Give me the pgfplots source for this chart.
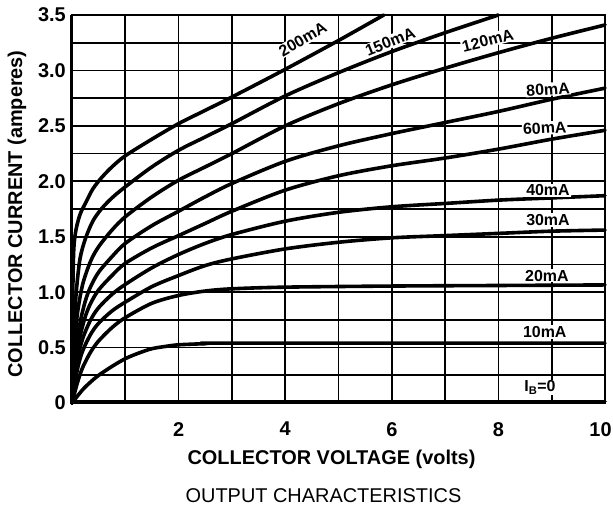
\documentclass[border=0pt]{standalone}
\usepackage{fontspec}
\setmainfont{Liberation Sans}
\usepackage{pgfplots}
\pgfplotsset{compat=1.18}
\usetikzlibrary{calc}
\begin{document}
\begin{tikzpicture}
\begin{axis}[
  name=ax,
  scale only axis,
  width=533bp, height=388bp,
  xmin=0, xmax=10, ymin=0, ymax=3.5,
  clip=false,
  xtick={0,1,2,3,4,5,6,7,8,9,10},
  xticklabels={,,2,,4,,6,,8,,10\kern9bp},
  ytick={0,0.25,0.5,0.75,1,1.25,1.5,1.75,2,2.25,2.5,2.75,3,3.25,3.5},
  yticklabels={0,,0.5,,1.0,,1.5,,2.0,,2.5,,3.0,,3.5},
  grid=major,
  major grid style={black, line width=1.7bp},
  major tick length=0pt,
  axis line style={black, line width=1.8bp},
  xticklabel style={font=\fontsize{20}{20}\selectfont\bfseries, anchor=north, inner sep=0pt, yshift=-19bp},
  yticklabel style={font=\fontsize{20}{20}\selectfont\bfseries, anchor=east, inner sep=0pt, xshift=-6bp},
]
\pgfplotsset{every axis plot/.append style={black, line width=3.6bp, line cap=round, line join=round}}
% 200 mA
\addplot[black, smooth] coordinates {(0,0) (0.01,0.8) (0.03,1.35) (0.07,1.55) (0.15,1.7) (0.25,1.8) (0.39,1.93) (0.55,2.03) (0.75,2.13) (1,2.23) (1.5,2.38) (2,2.52) (2.5,2.64) (3,2.76) (4,3.01) (5,3.27) (5.85,3.5)};
% 150 mA
\addplot[black, smooth] coordinates {(0,0) (0.03,0.6) (0.08,1.0) (0.15,1.3) (0.25,1.48) (0.39,1.64) (0.55,1.75) (0.75,1.85) (1,1.95) (1.5,2.13) (2,2.28) (2.5,2.40) (3,2.52) (4,2.77) (5,2.98) (6,3.17) (7,3.34) (8,3.5)};
% 120 mA
\addplot[black, smooth] coordinates {(0,0) (0.05,0.5) (0.1,0.8) (0.2,1.07) (0.35,1.28) (0.5,1.41) (0.75,1.56) (1,1.68) (1.5,1.86) (2,2.01) (2.5,2.13) (3,2.25) (4,2.50) (5,2.70) (6,2.87) (7,3.02) (8,3.16) (9,3.29) (10,3.41)};
% 80 mA
\addplot[black, smooth] coordinates {(0,0) (0.07,0.45) (0.15,0.72) (0.25,0.92) (0.35,1.05) (0.5,1.18) (0.75,1.32) (1,1.44) (1.5,1.6) (2,1.73) (2.5,1.86) (3,1.98) (4,2.18) (5,2.32) (6,2.43) (7,2.53) (8,2.63) (9,2.74) (10,2.84)};
% 60 mA
\addplot[black, smooth] coordinates {(0,0) (0.08,0.4) (0.15,0.6) (0.25,0.78) (0.35,0.9) (0.5,1.02) (0.75,1.15) (1,1.26) (1.5,1.4) (2,1.51) (2.5,1.62) (3,1.73) (4,1.92) (5,2.05) (6,2.14) (7,2.21) (8,2.29) (9,2.38) (10,2.46)};
% 40 mA
\addplot[black, smooth] coordinates {(0,0) (0.1,0.38) (0.2,0.58) (0.35,0.75) (0.5,0.86) (0.75,0.98) (1,1.07) (1.5,1.22) (2,1.34) (2.5,1.44) (3,1.52) (4,1.64) (5,1.72) (6,1.77) (7,1.80) (8,1.83) (9,1.85) (10,1.87)};
% 30 mA
\addplot[black, smooth] coordinates {(0,0) (0.1,0.3) (0.2,0.47) (0.35,0.62) (0.5,0.72) (0.75,0.83) (1,0.91) (1.5,1.05) (2,1.15) (2.5,1.24) (3,1.30) (4,1.39) (5,1.45) (6,1.49) (7,1.51) (8,1.53) (9,1.55) (10,1.56)};
% 20 mA
\addplot[black, smooth] coordinates {(0,0) (0.1,0.18) (0.2,0.32) (0.35,0.46) (0.5,0.56) (0.75,0.68) (1,0.77) (1.5,0.9) (2,0.97) (2.5,1.01) (3,1.03) (4,1.045) (6,1.055) (8,1.06) (10,1.065)};
% 10 mA
\addplot[black, smooth] coordinates {(0,0) (0.2,0.12) (0.35,0.19) (0.5,0.25) (0.75,0.33) (1,0.40) (1.25,0.45) (1.5,0.49) (1.75,0.51) (2,0.525) (2.5,0.535) (3,0.54) (10,0.54)};
% IB = 0
\addplot[black] coordinates {(0,0.012) (10,0.012)};
\draw[line width=3bp] (axis cs:0,0) -- (axis cs:0,3.5);
\tikzset{lbl/.style={fill=white, inner sep=1pt, font=\fontsize{16}{16}\selectfont\bfseries}}
\node[lbl, rotate=30] at (axis cs:4.33,3.28) {200mA};
\node[lbl, rotate=22] at (axis cs:5.97,3.26) {150mA};
\node[lbl, rotate=14] at (axis cs:7.8,3.27) {120mA};
\node[lbl, rotate=4] at (axis cs:8.93,2.83) {80mA};
\node[lbl, rotate=3] at (axis cs:8.87,2.48) {60mA};
\node[lbl] at (axis cs:8.93,1.92) {40mA};
\node[lbl] at (axis cs:8.93,1.65) {30mA};
\node[lbl] at (axis cs:8.91,1.15) {20mA};
\node[lbl] at (axis cs:8.87,0.64) {10mA};
\node[lbl] at (axis cs:8.78,0.14) {I\textsubscript{B}=0};
\end{axis}
\node[font=\fontsize{20}{20}\selectfont\bfseries] at ($(ax.south)+(-7bp,-56bp)$) {COLLECTOR VOLTAGE (volts)};
\node[font=\fontsize{20}{20}\selectfont] at ($(ax.south)+(-15bp,-93bp)$) {OUTPUT CHARACTERISTICS};
\node[font=\fontsize{20}{20}\selectfont\bfseries, rotate=90] at ($(ax.west)+(-55bp,-5bp)$) {COLLECTOR CURRENT (amperes)};
\pgfresetboundingbox
\path ($(ax.south west)+(-72bp,-106bp)$) rectangle ++(613bp,509bp);
\end{tikzpicture}
\end{document}
